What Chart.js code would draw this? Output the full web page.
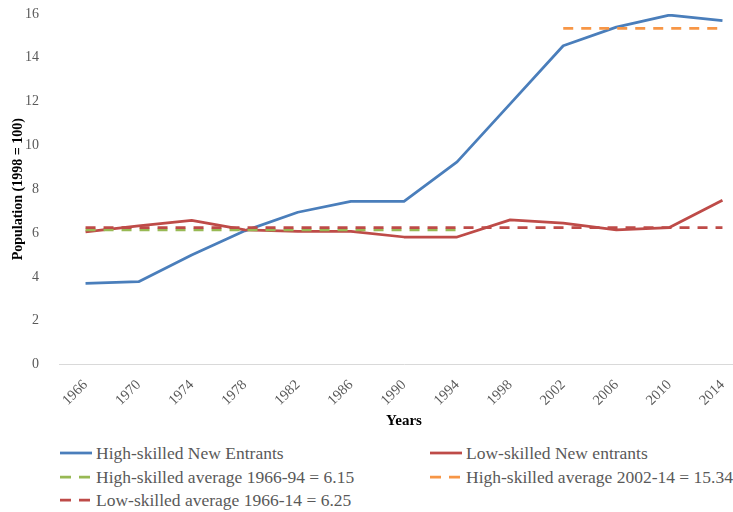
<!DOCTYPE html>
<html>
<head>
<meta charset="utf-8">
<script src="https://cdn.jsdelivr.net/npm/chart.js@4.4.0/dist/chart.umd.min.js"></script>
<style>
  body { margin: 0; background: #fff; overflow: hidden; width: 733px; height: 512px; }
  #wrap { position: relative; width: 750px; height: 432px; }
  .legend { position: absolute; left: 0; top: 441px; width: 733px; font-family: "Liberation Serif", serif; font-size: 17.5px; color: #595959; }
  .row { position: absolute; height: 24px; line-height: 24px; white-space: nowrap; }
  .row svg { position: absolute; left: 0; top: 10px; }
  .row span { position: absolute; left: 36px; top: 0; }
</style>
</head>
<body>
<div id="wrap"><canvas id="myChart" width="750" height="432"></canvas></div>
<div class="legend" id="legend"></div>
<script>
// data
const years = ['1966', '1970', '1974', '1978', '1982', '1986', '1990', '1994', '1998', '2002', '2006', '2010', '2014'];
const highSkilled = [3.7, 3.78, 5.0, 6.1, 6.95, 7.45, 7.45, 9.25, 11.9, 14.55, 15.4, 15.95, 15.7];
const lowSkilled = [6.05, 6.33, 6.58, 6.15, 6.08, 6.08, 5.82, 5.82, 6.6, 6.45, 6.15, 6.25, 7.5];
const highAvgEarly = [6.15, 6.15, 6.15, 6.15, 6.15, 6.15, 6.15, 6.15, null, null, null, null, null];
const highAvgLate = [null, null, null, null, null, null, null, null, null, 15.34, 15.34, 15.34, 15.34];
const lowAvg = [6.25, 6.25, 6.25, 6.25, 6.25, 6.25, 6.25, 6.25, 6.25, 6.25, 6.25, 6.25, 6.25];

const BLUE = '#4A7EBB', RED = '#BE4B48', GREEN = '#98B954', ORANGE = '#F79646';
const serif = '"Liberation Serif", serif';

const ctx = document.getElementById('myChart').getContext('2d');
const myChart = new Chart(ctx, {
    type: 'line',
    data: {
        labels: years,
        datasets: [
            { label: 'High-skilled New Entrants', data: highSkilled, borderColor: BLUE, order: 5 },
            { label: 'Low-skilled New entrants', data: lowSkilled, borderColor: RED, order: 4 },
            { label: 'High-skilled average 1966-94 = 6.15', data: highAvgEarly, borderColor: GREEN, borderDash: [10, 8], order: 3 },
            { label: 'High-skilled average 2002-14 = 15.34', data: highAvgLate, borderColor: ORANGE, borderDash: [10, 8], order: 2 },
            { label: 'Low-skilled average 1966-14 = 6.25', data: lowAvg, borderColor: RED, borderDash: [10, 8], order: 1 }
        ]
    },
    options: {
        responsive: false,
        animation: false,
        devicePixelRatio: 1,
        layout: { padding: { left: 0, right: 1, top: 14, bottom: 0 } },
        elements: {
            line: { borderWidth: 2.75, tension: 0, borderCapStyle: 'butt', borderJoinStyle: 'round' },
            point: { radius: 0 }
        },
        plugins: { legend: { display: false }, tooltip: { enabled: false } },
        scales: {
            x: {
                offset: true,
                grid: { display: false },
                border: { display: true, color: '#D9D9D9', width: 1 },
                ticks: { color: '#595959', font: { family: serif, size: 14.5 }, minRotation: 45, maxRotation: 45, padding: 4 },
                title: { display: true, text: 'Years', color: '#000', font: { family: serif, size: 15, weight: 'bold' }, padding: { top: 0, bottom: 2 } },
                afterFit: function(scale) { scale.height = 67.5; }
            },
            y: {
                min: 0,
                max: 16,
                grid: { display: false },
                border: { display: false },
                ticks: { stepSize: 2, color: '#595959', font: { family: serif, size: 14 }, padding: 12 },
                title: { display: true, text: 'Population (1998 = 100)', color: '#000', font: { family: serif, size: 14, weight: 'bold' }, padding: { top: 10, bottom: 0 } },
                afterFit: function(scale) {
                    scale.width = 59;
                    // tick padding would otherwise push the top of the plot down
                    scale.paddingTop = 8;
                }
            }
        }
    }
});

// legend in two columns like the original
const legendItems = [
    { text: 'High-skilled New Entrants', color: BLUE, dash: false, x: 60, row: 0 },
    { text: 'Low-skilled New entrants', color: RED, dash: false, x: 430, row: 0 },
    { text: 'High-skilled average 1966-94 = 6.15', color: GREEN, dash: true, x: 60, row: 1 },
    { text: 'High-skilled average 2002-14 = 15.34', color: ORANGE, dash: true, x: 430, row: 1 },
    { text: 'Low-skilled average 1966-14 = 6.25', color: RED, dash: true, x: 60, row: 2 }
];
const legend = document.getElementById('legend');
legendItems.forEach(function(item) {
    const row = document.createElement('div');
    row.className = 'row';
    row.style.left = item.x + 'px';
    row.style.top = (item.row * 23.5) + 'px';
    const dash = item.dash ? 'stroke-dasharray="11 8"' : '';
    row.innerHTML = '<svg width="33" height="4"><line x1="0" y1="2" x2="32" y2="2" stroke="' + item.color + '" stroke-width="2.75" ' + dash + '/></svg><span>' + item.text + '</span>';
    legend.appendChild(row);
});
</script>
</body>
</html>
